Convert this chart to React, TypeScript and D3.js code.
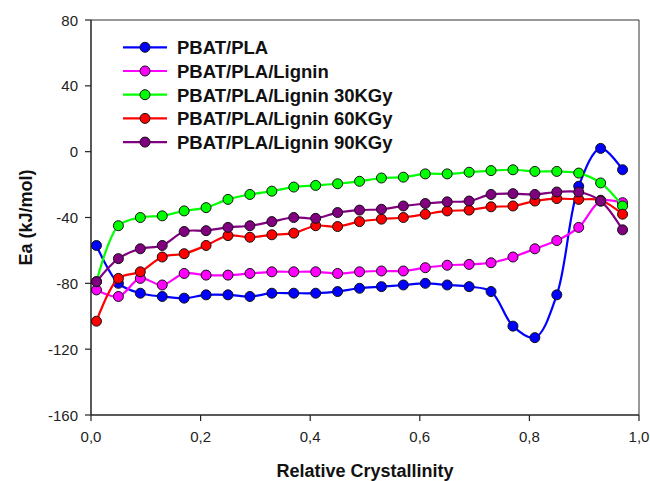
import React from "react";
import * as d3 from "d3";

// Relative crystallinity sampled every 0.04
const xValues = [
  0.01, 0.05, 0.09, 0.13, 0.17, 0.21, 0.25, 0.29, 0.33, 0.37, 0.41, 0.45, 0.49,
  0.53, 0.57, 0.61, 0.65, 0.69, 0.73, 0.77, 0.81, 0.85, 0.89, 0.93, 0.97,
];

const pbatPla = [
  -57, -80, -86, -88, -89, -87, -87, -88, -86, -86, -86, -85, -83, -82, -81, -80,
  -81, -82, -85, -106, -113, -87, -21, 2, -11,
];
const pbatPlaLignin = [
  -84, -88, -77, -81, -74, -75, -75, -74, -73, -73, -73, -74, -73, -72.5, -72.5,
  -70.5, -69, -68.5, -67.5, -64, -59, -54, -46, -30, -31,
];
const lignin30 = [
  -79, -45, -40, -39, -36, -34, -29, -26, -24, -21.5, -20.5, -19.5, -18, -16,
  -15.5, -13.5, -13.5, -12.5, -11.5, -11, -12, -12, -13, -19, -33,
];
const lignin60 = [
  -103, -77, -73, -64, -62, -57, -51, -52, -50.5, -49.5, -45, -45.5, -42.5, -41,
  -40, -38, -36, -35.5, -33.5, -33, -30, -28.5, -29, -29.5, -38,
];
const lignin90 = [
  -79, -65, -59, -57, -48.5, -48, -46, -45, -42.5, -40, -40.5, -37, -35.5, -35,
  -33, -31.5, -30.5, -30, -26, -25.5, -26, -24.5, -24.5, -30, -47.5,
];

const seriesNames = [
  "PBAT/PLA",
  "PBAT/PLA/Lignin",
  "PBAT/PLA/Lignin 30KGy",
  "PBAT/PLA/Lignin 60KGy",
  "PBAT/PLA/Lignin 90KGy",
];
const seriesValues = [pbatPla, pbatPlaLignin, lignin30, lignin60, lignin90];
const colors = ["#0000ff", "#ff00ff", "#00ff00", "#ff0000", "#800080"];

const xTicks = [0, 0.2, 0.4, 0.6, 0.8, 1.0];
const yTicks = [-160, -120, -80, -40, 0, 40, 80];

const W = 650;
const H = 481;
const left = 91;
const right = 639;
const top = 20;
const bottom = 415;

const font = "'Liberation Sans', Arial, sans-serif";

export default function App() {
  const x = d3.scaleLinear().domain([0, 1]).range([left, right]);
  const y = d3.scaleLinear().domain([-160, 80]).range([bottom, top]);
  const fmt = (v: number) => d3.format(".1f")(v).replace(".", ",");

  const line = d3
    .line<number>()
    .x((_d, i) => x(xValues[i]))
    .y((d) => y(d))
    .curve(d3.curveCatmullRom.alpha(0.5));

  return (
    <svg
      width={W}
      height={H}
      style={{ position: "absolute", left: 0, top: 0, background: "#fff" }}
      fontFamily={font}
    >
      {/* frame */}
      <line x1={right} x2={right} y1={top} y2={bottom} stroke="#555" strokeWidth={1.2} />
      <line x1={left} x2={right} y1={top} y2={top} stroke="#333" strokeWidth={1.2} />
      <line x1={left} x2={left} y1={top} y2={bottom} stroke="#222" strokeWidth={1.5} />
      <line x1={left} x2={right} y1={bottom} y2={bottom} stroke="#222" strokeWidth={1.5} />

      {/* y axis */}
      {yTicks.map((t) => (
        <g key={"y" + t}>
          <line x1={left - 6} x2={left} y1={y(t)} y2={y(t)} stroke="#222" strokeWidth={1.2} />
          <text x={left - 13} y={y(t) + 5.5} textAnchor="end" fontSize={15} fill="#222">
            {t}
          </text>
        </g>
      ))}

      {/* x axis */}
      {xTicks.map((t) => (
        <g key={"x" + t}>
          <line x1={x(t)} x2={x(t)} y1={bottom} y2={bottom + 6} stroke="#222" strokeWidth={1.2} />
          <text x={x(t)} y={442} textAnchor="middle" fontSize={15} fill="#222">
            {fmt(t)}
          </text>
        </g>
      ))}

      <text x={365} y={476.5} textAnchor="middle" fontSize={18} fontWeight="bold" fill="#111">
        Relative Crystallinity
      </text>
      <text
        transform={`translate(32, ${(top + bottom) / 2}) rotate(-90)`}
        textAnchor="middle"
        fontSize={18}
        fontWeight="bold"
        fill="#111"
      >
        Ea (kJ/mol)
      </text>

      {/* series */}
      {seriesValues.map((vals, s) => (
        <g key={seriesNames[s]}>
          <path d={line(vals) || ""} fill="none" stroke={colors[s]} strokeWidth={2.2} />
          {vals.map((v, i) => (
            <circle
              key={i}
              cx={x(xValues[i])}
              cy={y(v)}
              r={5}
              fill={colors[s]}
              stroke="#111"
              strokeWidth={1}
            />
          ))}
        </g>
      ))}

      {/* legend */}
      {seriesNames.map((name, s) => {
        const ly = 47.3 + s * 23.7;
        return (
          <g key={"leg" + s}>
            <line x1={123} x2={167} y1={ly} y2={ly} stroke={colors[s]} strokeWidth={2.2} />
            <circle cx={145} cy={ly} r={5} fill={colors[s]} stroke="#111" strokeWidth={1} />
            <text x={177} y={ly + 6.8} fontSize={18.5} fontWeight="bold" fill="#111">
              {name}
            </text>
          </g>
        );
      })}
    </svg>
  );
}
